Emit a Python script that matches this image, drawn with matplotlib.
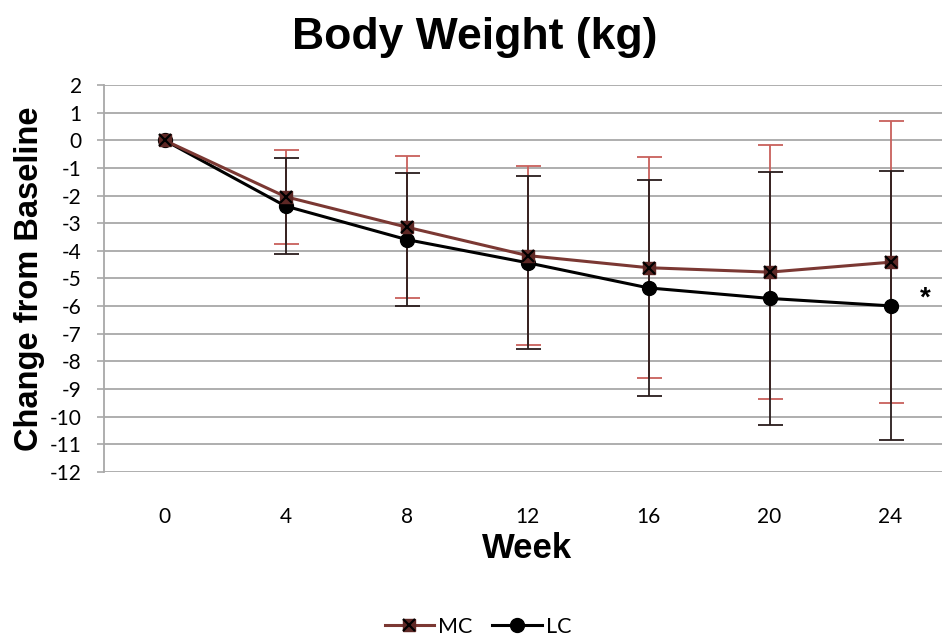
import matplotlib
matplotlib.use("Agg")
import matplotlib.pyplot as plt
from matplotlib.lines import Line2D

# mean change from baseline and SD per visit
weeks = [0, 4, 8, 12, 16, 20, 24]
mc_change = [0, -2.04, -3.14, -4.17, -4.61, -4.77, -4.41]
mc_sd = [0, 1.70, 2.57, 3.24, 4.00, 4.59, 5.11]
lc_change = [0, -2.38, -3.59, -4.43, -5.34, -5.72, -5.99]
lc_sd = [0, 1.74, 2.40, 3.12, 3.92, 4.57, 4.87]
y_ticks = list(range(-12, 3))

MC_LINE = '#7b3833'
MC_FILL = '#5e2825'
MC_BAR = '#c8605c'
LC_BAR = '#2a1c1c'
GRID = '#a8a8a8'

bold_font = 'Liberation Sans'
tick_font = 'Lato'

fig = plt.figure(figsize=(9.42, 6.38), dpi=100)
ax = fig.add_axes([104 / 942, 1 - 472 / 638, 847 / 942, 387 / 638])

# error bars first (baseline has none), LC bars sit over the MC ones
ax.errorbar(weeks[1:], mc_change[1:], yerr=mc_sd[1:], fmt='none',
            ecolor=MC_BAR, elinewidth=1.3, capsize=9, capthick=1.3, zorder=3)
ax.errorbar(weeks[1:], lc_change[1:], yerr=lc_sd[1:], fmt='none',
            ecolor=LC_BAR, elinewidth=1.3, capsize=9, capthick=1.3, zorder=4)

ax.plot(weeks, lc_change, color='black', lw=2.2, marker='o', ms=10,
        mfc='black', mec='black', zorder=5)
ax.plot(weeks, mc_change, color=MC_LINE, lw=2.2, marker='s', ms=8.5,
        mfc=MC_FILL, mec=MC_FILL, zorder=6)
ax.plot(weeks, mc_change, ls='none', marker='x', ms=8.5, mew=1.6,
        color='black', zorder=7)

# significance marker next to the week 24 LC point
ax.annotate('*', xy=(weeks[-1], lc_change[-1]), xytext=(21, 5),
            textcoords='offset points', ha='left', va='center',
            fontsize=20, fontweight='bold', family=bold_font, color='black')

ax.set_xlim(-2, 26)
ax.set_ylim(-12, 2)
ax.set_xticks(weeks)
ax.set_yticks(y_ticks)
ax.set_xticklabels([str(w) for w in weeks], family=tick_font, fontsize=15)
ax.set_yticklabels([str(v) for v in y_ticks], family=tick_font, fontsize=15)
ax.tick_params(axis='x', length=0, pad=25)
ax.tick_params(axis='y', length=5, width=1.2, color=GRID, pad=11)

ax.grid(axis='y', color=GRID, lw=1.3)
ax.set_axisbelow(True)
for side in ['top', 'right', 'bottom']:
    ax.spines[side].set_visible(False)
ax.spines['left'].set_color(GRID)
ax.spines['left'].set_linewidth(1.3)

ax.set_ylabel('Change from Baseline', family=bold_font, fontsize=23.5,
              fontweight='bold')
ax.yaxis.label.set_va('center')
ax.yaxis.set_label_coords(-0.0885, 0.5)
ax.set_xlabel('Week', family=bold_font, fontsize=25, fontweight='bold')
ax.xaxis.label.set_va('center')
ax.xaxis.set_label_coords(0.5, -0.197)

fig.text(0.504, 1 - 37 / 638, 'Body Weight (kg)', ha='center', va='center',
         family=bold_font, fontsize=32, fontweight='bold')

mc_handle = (Line2D([], [], color=MC_LINE, lw=2.2, marker='s', ms=8.5,
                    mfc=MC_FILL, mec=MC_FILL),
             Line2D([], [], ls='none', marker='x', ms=8.5, mew=1.6,
                    color='black'))
lc_handle = Line2D([], [], color='black', lw=2.2, marker='o', ms=10)
fig.legend([mc_handle, lc_handle], ['MC', 'LC'], loc='center',
           bbox_to_anchor=(478 / 942, 11 / 638), ncol=2, frameon=False,
           prop={'family': tick_font, 'size': 15.5}, handlelength=2.3,
           handletextpad=0.2, columnspacing=0.9)

fig.savefig('out.png', dpi=100)
